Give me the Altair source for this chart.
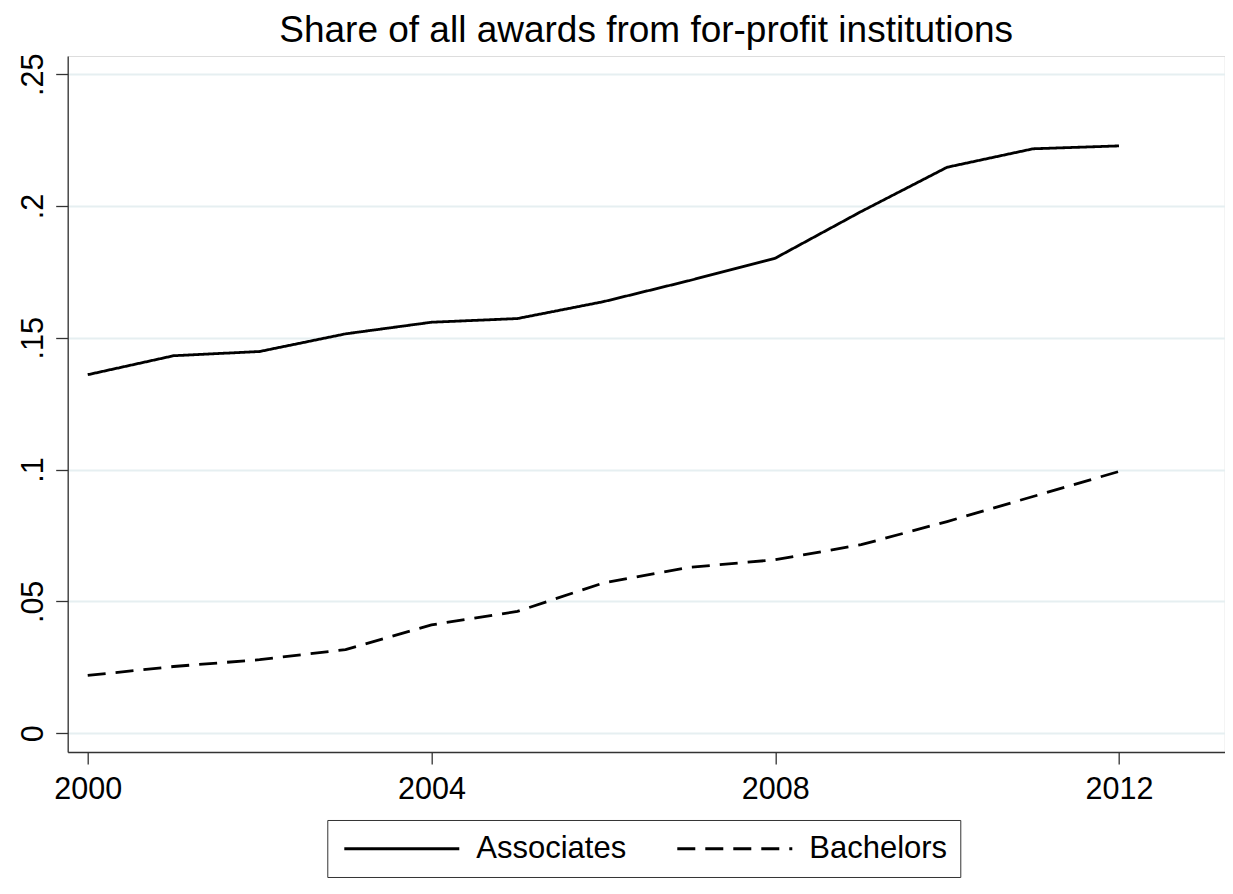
import altair as alt
import pandas as pd

years = list(range(2000, 2013))
associates = [0.1360, 0.1432, 0.1448, 0.1515, 0.1559, 0.1573, 0.1637,
              0.1717, 0.1802, 0.1979, 0.2147, 0.2217, 0.2228]
bachelors = [0.0219, 0.0253, 0.0279, 0.0317, 0.0411, 0.0462, 0.0570,
             0.0629, 0.0658, 0.0715, 0.0803, 0.0898, 0.0993]
series_names = ["Associates", "Bachelors"]
x_ticks = [2000, 2004, 2008, 2012]
y_ticks = [0, 0.05, 0.1, 0.15, 0.2, 0.25]
title_text = "Share of all awards from for-profit institutions"

df = pd.DataFrame({
    "year": years + years,
    "value": associates + bachelors,
    "series": [series_names[0]] * len(years) + [series_names[1]] * len(years),
})

FONT = "Liberation Sans, Arial, Helvetica, sans-serif"
AXIS_COLOR = "#333333"
GRID_COLOR = "#E6EFF1"

chart = alt.Chart(df).mark_line(color="black", strokeWidth=2.8).encode(
    x=alt.X(
        "year:Q",
        scale=alt.Scale(domain=[1999.767, 2013.23], nice=False, zero=False),
        axis=alt.Axis(
            values=x_ticks, format="d", title=None, grid=False,
            labelFont=FONT, labelFontSize=30.5, labelColor="black",
            labelBaseline="alphabetic", labelPadding=35, tickSize=12,
            tickColor=AXIS_COLOR, tickWidth=1.3, domainColor=AXIS_COLOR,
            domainWidth=1.3, labelFlush=False, labelOverlap=False,
        ),
    ),
    y=alt.Y(
        "value:Q",
        scale=alt.Scale(domain=[-0.00713, 0.2569], nice=False, zero=False),
        axis=alt.Axis(
            values=y_ticks, title=None, grid=True, gridColor=GRID_COLOR,
            gridWidth=2,
            labelExpr="replace(format(datum.value, '.2~f'), '0.', '.')",
            labelAngle=270, labelAlign="center", labelBaseline="alphabetic",
            labelFont=FONT, labelFontSize=30.5, labelColor="black",
            labelPadding=13.4, tickSize=12, tickColor=AXIS_COLOR,
            tickWidth=1.3, domainColor=AXIS_COLOR, domainWidth=1.3,
            labelFlush=False, labelOverlap=False,
        ),
    ),
    strokeDash=alt.StrokeDash(
        "series:N",
        scale=alt.Scale(domain=series_names, range=[[1, 0], [18, 10]]),
        legend=alt.Legend(
            title=None, orient="none", legendX=259.6, legendY=764,
            direction="horizontal", labelFont=FONT, labelFontSize=31,
            labelColor="black", labelOffset=59, columnPadding=45,
            padding=13, symbolType="M-5,0H5", symbolSize=529,
            symbolOffset=46,
            symbolStrokeWidth=2.8, symbolStrokeColor="black",
            strokeColor=AXIS_COLOR, fillColor="white", labelLimit=400,
        ),
    ),
).properties(
    width=1157,
    height=696,
    title=alt.Title(
        title_text, font=FONT, fontSize=37, fontWeight="normal",
        color="black", anchor="middle", frame="group", offset=3,
    ),
    autosize=alt.AutoSizeParams(type="none"),
    padding={"left": 59.7, "top": 48, "right": 0, "bottom": 128},
).configure_view(stroke=None).configure_legend(
    strokeWidth=1.6
).configure(background="white")

chart.save("out.html", embed_options={"renderer": "svg", "actions": False})
